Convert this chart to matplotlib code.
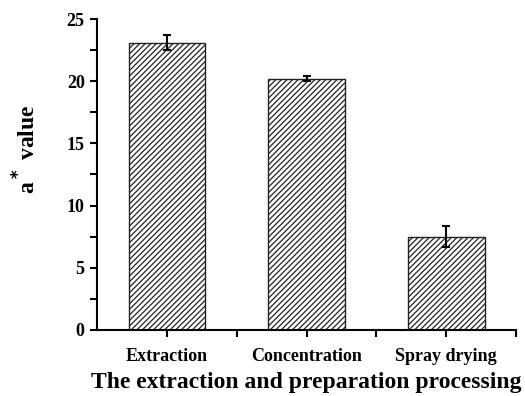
import numpy as np
import matplotlib.pyplot as plt
from matplotlib.ticker import MultipleLocator

# data
stages = ['Extraction', 'Concentration', 'Spray drying']
a_values = [23.1, 20.2, 7.5]
a_errors = [0.6, 0.2, 0.85]

plt.rcParams['font.family'] = ['Liberation Serif', 'DejaVu Serif']
plt.rcParams['font.weight'] = 'bold'
plt.rcParams['hatch.linewidth'] = 0.9

fig = plt.figure(figsize=(5.25, 3.96), dpi=100)
ax = fig.add_axes([0.185, 0.167, 0.798, 0.785])

x = np.arange(len(stages))
ax.bar(x, a_values, width=0.55, color='white', edgecolor='#222222',
       linewidth=1.0, hatch='//////')
ax.errorbar(x, a_values, yerr=a_errors, fmt='none', ecolor='black',
            elinewidth=1.5, capsize=3, capthick=1.5)

ax.set_xlim(-0.5, 2.5)
ax.set_ylim(0, 25)
ax.yaxis.set_major_locator(MultipleLocator(5))
ax.yaxis.set_minor_locator(MultipleLocator(2.5))
ax.set_xticks(x)
ax.set_xticks([0.5, 1.5, 2.5], minor=True)
ax.set_xticklabels(stages, fontsize=13, fontweight='bold')
ax.tick_params(axis='both', which='both', direction='out', width=1.5, length=5)
ax.tick_params(axis='y', labelsize=13, pad=4)
ax.tick_params(axis='x', pad=8)

for side in ['top', 'right']:
    ax.spines[side].set_visible(False)
for side in ['left', 'bottom']:
    ax.spines[side].set_linewidth(1.5)

ax.set_ylabel('a$^*$ value', fontsize=17, fontweight='bold')
ax.yaxis.set_label_coords(-0.136, 0.58)
ax.set_xlabel('The extraction and preparation processing', fontsize=17,
              fontweight='bold', labelpad=5)

fig.savefig('out.png', dpi=100)
